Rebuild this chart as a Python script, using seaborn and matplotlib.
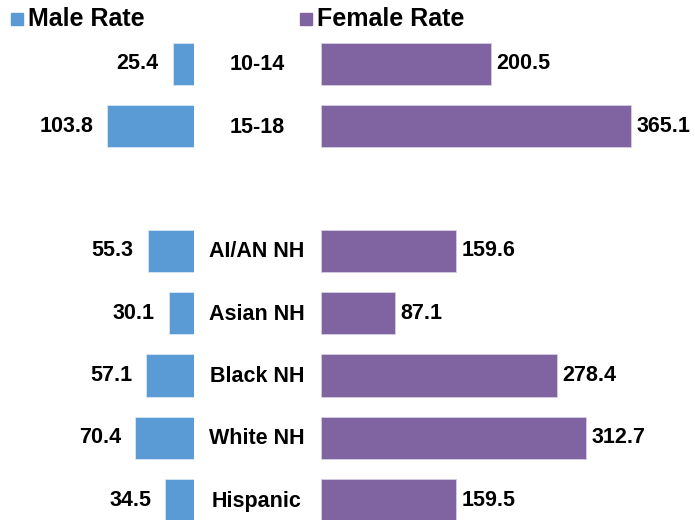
import matplotlib
matplotlib.use("Agg")
import matplotlib.pyplot as plt
import seaborn as sns
import pandas as pd
from matplotlib.patches import Rectangle

# dados
categories = ["10-14", "15-18", "AI/AN NH", "Asian NH", "Black NH", "White NH", "Hispanic"]
positions = [0, 1, 3, 4, 5, 6, 7]
male_rate = [25.4, 103.8, 55.3, 30.1, 57.1, 70.4, 34.5]
female_rate = [200.5, 365.1, 159.6, 87.1, 278.4, 312.7, 159.5]

male_color = "#5B9BD5"
female_color = "#8064A2"

sns.set_style("white")
plt.rcParams["font.family"] = ["Liberation Sans", "DejaVu Sans"]
plt.rcParams["text.color"] = "black"

W, H = 695, 520
fig = plt.figure(figsize=(W / 100, H / 100), dpi=100)

# y: centro da linha 0 em 64 px, passo 62.3 px
step = 62.3
y_top = -64 / step
y_bot = (H - 64) / step

male_px = 0.838
female_px = 0.848

# eixo masculino: de 0 a 194 px, invertido
ax_m = fig.add_axes([0, 0, 194 / W, 1])
# eixo feminino: de 321 px até a borda
ax_f = fig.add_axes([321 / W, 0, (W - 321) / W, 1])

df = pd.DataFrame({"pos": positions, "male": male_rate, "female": female_rate})

sns.barplot(data=df, x="male", y="pos", orient="h", native_scale=True,
            color=male_color, saturation=1, width=0.68, ax=ax_m,
            edgecolor="#d8e6f4", linewidth=0.6)
sns.barplot(data=df, x="female", y="pos", orient="h", native_scale=True,
            color=female_color, saturation=1, width=0.68, ax=ax_f,
            edgecolor="#d6cde3", linewidth=0.6)

ax_m.set_xlim(194 / male_px, 0)
ax_f.set_xlim(0, (W - 321) / female_px)

for ax in (ax_m, ax_f):
    ax.set_ylim(y_bot, y_top)
    ax.set_axis_off()

ax_m.bar_label(ax_m.containers[0], fmt="%.1f", padding=10,
               fontsize=15.5, fontweight="bold", color="black")
ax_f.bar_label(ax_f.containers[0], fmt="%.1f", padding=4,
               fontsize=15.5, fontweight="bold", color="black")

# rótulos das categorias no meio
for cat, pos in zip(categories, positions):
    y_px = 65 + step * pos
    fig.text(257 / W, 1 - y_px / H, cat, ha="center", va="center",
             fontsize=15.5, fontweight="bold", color="black")

# legenda
for x0, label, col in [(11, "Male Rate", male_color), (300, "Female Rate", female_color)]:
    fig.patches.append(Rectangle((x0 / W, 1 - 25 / H), 12 / W, 12 / H,
                                 transform=fig.transFigure, color=col))
    fig.text((x0 + 17) / W, 1 - 19 / H, label, ha="left", va="center",
             fontsize=18, fontweight="bold", color="black")

plt.savefig("out.png", dpi=100)
plt.close()
